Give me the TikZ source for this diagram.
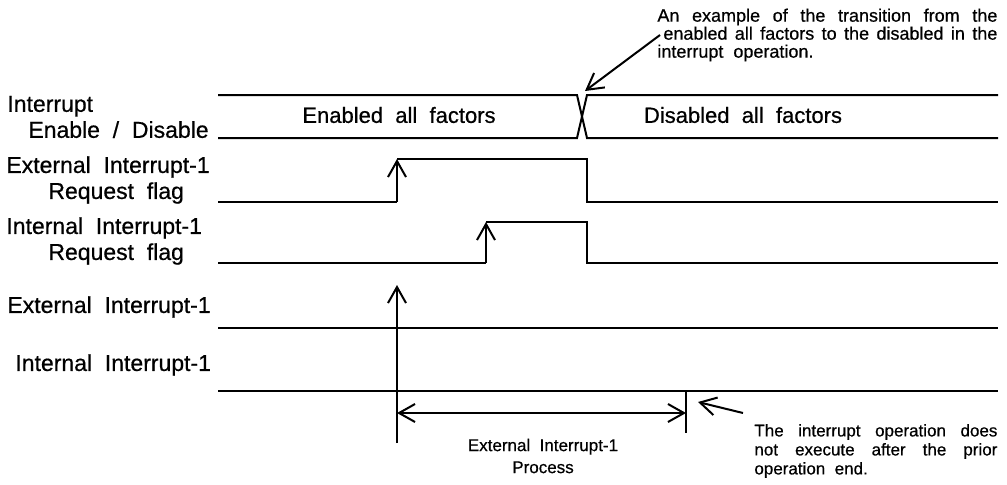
\documentclass[tikz,border=0pt]{standalone}
\usepackage{fontspec}
\setmainfont{Liberation Sans}[WordSpace=2, FakeBold=0.6]
\usetikzlibrary{arrows.meta}

\begin{document}
\begin{tikzpicture}[
  x=0.5pt, y=-0.5pt,
  sig/.style={line width=1pt},
  arrow/.style={-{Straight Barb[length=8pt,width=9pt]}, line width=1pt},
  dim/.style={{Straight Barb[length=8pt,width=9pt]}-{Straight Barb[length=8pt,width=9pt]}, line width=1pt},
  lbl/.style={anchor=west, align=left, inner sep=0pt, font=\fontsize{11.5}{13}\selectfont},
  bus/.style={inner sep=0pt, font=\fontsize{11}{12}\selectfont},
  note/.style={anchor=west, align=left, inner sep=0pt, font=\fontsize{9}{9}\selectfont}
]
  \useasboundingbox (0,0) rectangle (1007,484);

  % signal names
  \node[lbl] (ienable) at (7,117) {Interrupt\\\hspace*{10.5pt}Enable / Disable};
  \node[lbl] (extflag) at (6,180) {External Interrupt-1\\\hspace*{21pt}Request flag};
  \node[lbl] (intflag) at (6,241) {Internal Interrupt-1\\\hspace*{21pt}Request flag};
  \node[lbl] (extint) at (7,307) {External Interrupt-1};
  \node[lbl] (intint) at (15,365) {Internal Interrupt-1};

  % interrupt enable / disable
  \draw[sig] (218,95) -- (577,95) -- (587,138) -- (998,138);
  \draw[sig] (218,138) -- (577,138) -- (587,95) -- (998,95);
  \node[bus] (enabled) at (399,115) {Enabled all factors};
  \node[bus] (disabled) at (743,115) {Disabled all factors};
  \coordinate (xing) at (585,91);

  % request flags
  \draw[sig] (218,202) -- (397,202);
  \draw[arrow] (397,202) -- (397,159);
  \draw[sig] (397,159) -- (587,159) -- (587,202) -- (998,202);
  \draw[sig] (218,263) -- (486,263);
  \draw[arrow] (486,263) -- (486,222);
  \draw[sig] (486,222) -- (587,222) -- (587,263) -- (998,263);

  % interrupt lines
  \draw[sig] (218,328) -- (998,328);
  \draw[sig] (218,391) -- (998,391);
  \draw[arrow] (397,443) -- (397,285);
  \draw[sig] (686,391) -- (686,433);

  % process span
  \coordinate (pstart) at (397,413);
  \coordinate (pend) at (686,413);
  \draw[dim] (pstart) -- (pend);
  \node[note, anchor=center, align=center, font=\fontsize{8.5}{11}\selectfont] (proc) at (543,456) {External Interrupt-1\\Process};

  % notes
  \node[note] (topnote) at (657,35) {\makebox[170pt][s]{An example of the transition from the}\\\hspace*{3pt}\makebox[167pt][s]{enabled all factors to the disabled in the}\\interrupt operation.};
  \draw[arrow] ([xshift=1.5pt]topnote.west) -- (xing);

  \node[note, font=\fontsize{8.5}{9.5}\selectfont] (endnote) at (754,451) {\makebox[121.5pt][s]{The interrupt operation does}\\\makebox[121.5pt][s]{not execute after the prior}\\operation end.};
  \coordinate (tickend) at (698,402);
  \draw[arrow] ([shift={(-11,-38)}]endnote.west) -- (tickend);
\end{tikzpicture}
\end{document}
